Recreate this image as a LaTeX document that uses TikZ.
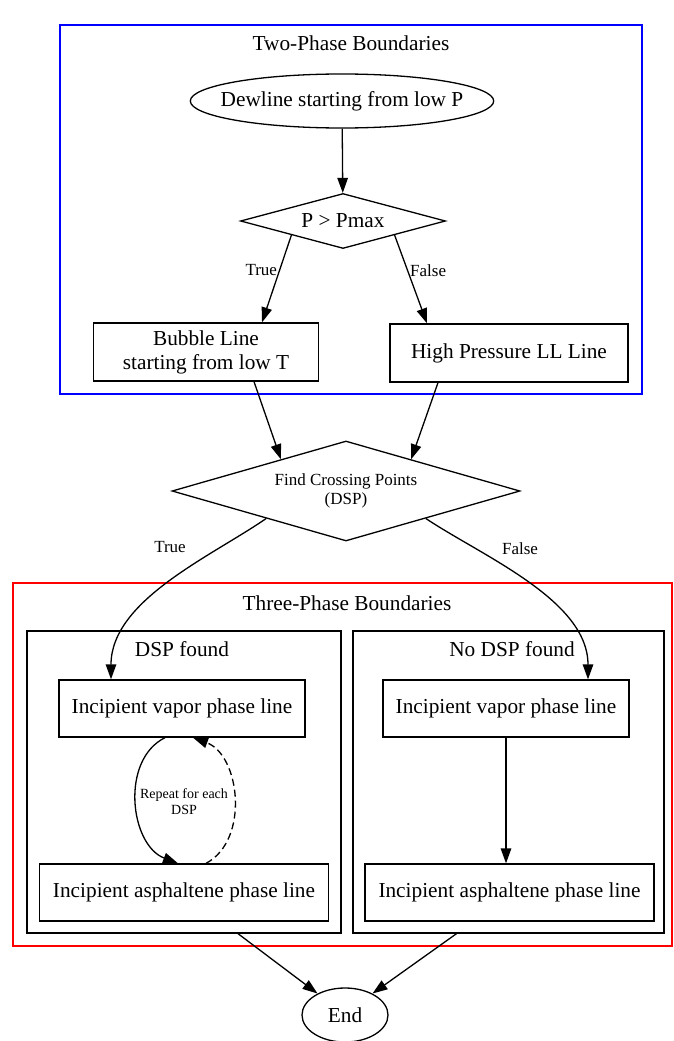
\documentclass[tikz,border=0pt]{standalone}
\usepackage{fontspec}
\setmainfont{Liberation Serif}
\usetikzlibrary{arrows.meta,shapes.geometric}

\begin{document}
\begin{tikzpicture}[x=1pt,y=-1pt,
    every node/.style={font=\fontsize{21.3}{24}\selectfont},
    box/.style={draw,line width=1.3pt,rectangle,minimum height=57pt,inner sep=0pt,align=center},
    decide/.style={draw,line width=1.3pt,diamond,inner sep=0pt,align=center},
    term/.style={draw,line width=1.3pt,ellipse,minimum height=54pt},
    frame/.style={draw,line width=1.3pt,rectangle,inner sep=0pt},
    lbl/.style={font=\fontsize{17}{19}\selectfont,inner sep=2pt},
    flow/.style={line width=1.3pt,-{Triangle[length=15pt,width=10.5pt]}}]
    \useasboundingbox (0,0) rectangle (673,1041);
    % cluster frames
    \node[frame,draw=blue,minimum width=582pt,minimum height=369pt] (twophase) at (351,209.5) {};
    \node (twotitle) at (351,43) {Two-Phase Boundaries};
    \node[frame,draw=red,minimum width=659pt,minimum height=363pt] (threephase) at (342.5,764.5) {};
    \node (threetitle) at (347,603) {Three-Phase Boundaries};
    \node[frame,minimum width=314pt,minimum height=302pt] (dspbox) at (184,782) {};
    \node (dsptitle) at (182,649) {DSP found};
    \node[frame,minimum width=311pt,minimum height=302pt] (nodspbox) at (508.5,782) {};
    \node (nodsptitle) at (512,649) {No DSP found};
    % two-phase part
    \node[term,inner xsep=-14pt,inner ysep=0pt] (dew) at (342,101) {Dewline starting from low P};
    \node[decide,aspect=3.7,minimum width=205pt,minimum height=55pt] (pcheck) at (343,221) {P > Pmax};
    \node[box,minimum width=225pt,minimum height=58pt] (bubble) at (206,352) {Bubble Line\\starting from low T};
    \node[box,minimum width=238pt,minimum height=58pt] (hp) at (509,353) {High Pressure LL Line};
    \draw[flow] (dew) -- (pcheck);
    \draw[flow] (pcheck.south west) -- node[lbl,left,pos=0.4] (truea) {True} ([xshift=56pt]bubble.north);
    \draw[flow] (pcheck.south east) -- node[lbl,right,pos=0.4] (falsea) {False} ([xshift=-82pt]hp.north);
    % crossing points
    \node[decide,aspect=3.48,minimum width=348pt,minimum height=100pt,font=\fontsize{17}{19}\selectfont] (cross) at (346,491) {Find Crossing Points\\(DSP)};
    \draw[flow] ([xshift=48pt]bubble.south) -- (cross.154);
    \draw[flow] ([xshift=-71pt]hp.south) -- (cross.26);
    % three-phase part
    \node[box,minimum width=246pt] (vap1) at (182,708.5) {Incipient vapor phase line};
    \node[box,minimum width=289pt] (asph1) at (184,892.5) {Incipient asphaltene phase line};
    \node[box,minimum width=246pt] (vap2) at (506,708.5) {Incipient vapor phase line};
    \node[box,minimum width=289pt] (asph2) at (509.5,892.5) {Incipient asphaltene phase line};
    \draw[flow] (cross.199) .. controls (212,556) and (111,600) .. ([xshift=-71pt]vap1.north);
    \node[lbl] (trueb) at (170,547) {True};
    \draw[flow] (cross.341) .. controls (482,556) and (588,600) .. ([xshift=82pt]vap2.north);
    \node[lbl] (falseb) at (520,549) {False};
    % loop over each DSP
    \draw[flow] ([xshift=-17pt]vap1.south) .. controls (120,760) and (130,845) .. ([xshift=-6pt]asph1.north);
    \draw[flow,dash pattern=on 7pt off 4pt] ([xshift=22pt]asph1.north) .. controls (250,840) and (240,755) .. ([xshift=11pt]vap1.south);
    \node[font=\fontsize{14}{16}\selectfont,align=center] (repeat) at (184,802) {Repeat for each\\DSP};
    \draw[flow] (vap2.south) -- (vap2.south |- asph2.north);
    % end
    \node[term,minimum width=86pt,inner sep=0pt] (stop) at (345,1015) {End};
    \draw[flow] ([xshift=54pt]dspbox.south) -- (stop.142);
    \draw[flow] ([xshift=-52pt]nodspbox.south) -- (stop.38);
\end{tikzpicture}
\end{document}
